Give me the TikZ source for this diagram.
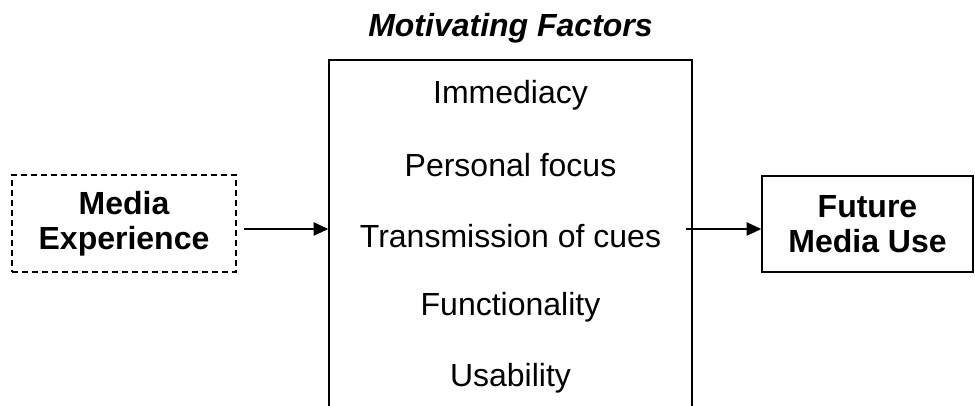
\documentclass[tikz,border=0pt]{standalone}
\usepackage{fontspec}
\setmainfont{Liberation Sans}
\usetikzlibrary{arrows.meta,positioning}

\tikzset{
  box/.style={draw,line width=1.1pt,align=center,inner sep=0pt,
    font=\fontsize{24}{26.25}\selectfont\bfseries},
  dashbox/.style={box,dash pattern=on 4.5pt off 3pt},
  item/.style={font=\fontsize{24}{26.25}\selectfont,inner sep=0pt},
  flow/.style={line width=1.1pt,-{Triangle[length=11pt,width=10pt]}}
}

\begin{document}
\begin{tikzpicture}[x=0.75pt,y=-0.75pt]
    \useasboundingbox (0,0) rectangle (975,405);
    \clip (0,0) rectangle (975,405);
    % boxes
    \node[dashbox,minimum width=168pt,minimum height=72.75pt] (media) at (124,223.5) {Media\\Experience};
    \node[box,minimum width=272.25pt,minimum height=277.5pt] (factors) at (510.5,245) {};
    \node[box,minimum width=158.25pt,minimum height=72pt] (future) at (867.5,224) {Future\\Media Use};
    \node[font=\fontsize{24}{26}\selectfont\bfseries\itshape] (title) at (510.5,28) {Motivating Factors};
    % factors
    \node[item] (immediacy) at (510.5,95) {Immediacy};
    \node[item] (personal) at (510.5,165) {Personal focus};
    \node[item] (cues) at (510.5,236) {Transmission of cues};
    \node[item] (function) at (510.5,307) {Functionality};
    \node[item] (usability) at (510.5,378) {Usability};
    % arrows
    \coordinate (lvl) at (0,229);
    \draw[flow]([xshift=5.25pt]media.east |- lvl)--(factors.west |- lvl);
    \draw[flow]([xshift=-5.25pt]factors.east |- lvl)--(future.west |- lvl);
\end{tikzpicture}
\end{document}
